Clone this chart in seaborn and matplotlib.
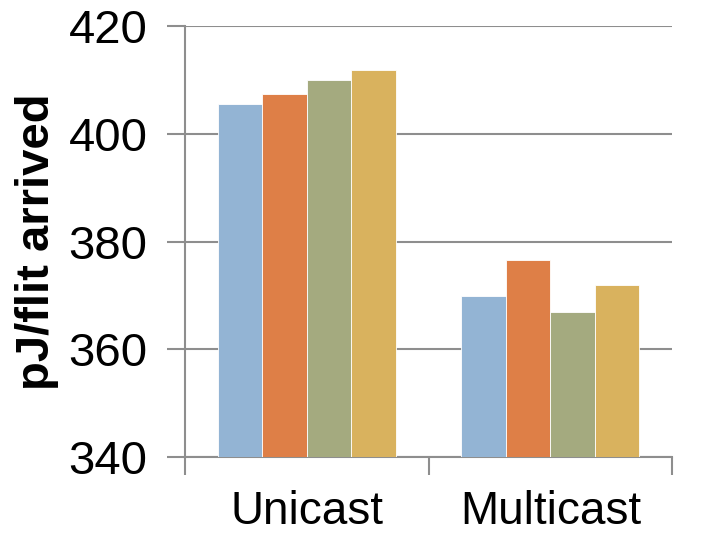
import matplotlib
matplotlib.use("Agg")
import matplotlib.pyplot as plt
import seaborn as sns
import pandas as pd

# Energy per arrived flit for four configurations under two traffic types
categories = ["Unicast", "Multicast"]
series = ["Config 1", "Config 2", "Config 3", "Config 4"]
values = {
    "Config 1": [405.6, 369.9],
    "Config 2": [407.3, 376.5],
    "Config 3": [409.9, 367.0],
    "Config 4": [411.9, 371.9],
}
yticks = [340, 360, 380, 400, 420]
colors = ["#93B4D4", "#DE7F47", "#A4AA7F", "#D9B25E"]

rows = []
for s in series:
    for c, v in zip(categories, values[s]):
        rows.append({"traffic": c, "config": s, "energy": v})
df = pd.DataFrame(rows)

sns.set_theme(style="white")
plt.rcParams["font.family"] = ["Liberation Sans", "DejaVu Sans"]
plt.rcParams["text.color"] = "black"
plt.rcParams["axes.labelcolor"] = "black"
plt.rcParams["xtick.color"] = "black"
plt.rcParams["ytick.color"] = "black"

fig = plt.figure(figsize=(7.06, 5.33), dpi=100)
ax = fig.add_axes([0.262, 0.1426, 0.690, 0.8086])

sns.barplot(data=df, x="traffic", y="energy", hue="config", order=categories,
            hue_order=series, palette=colors, saturation=1, width=0.73, gap=0,
            edgecolor="white", linewidth=0.6, legend=False, ax=ax, zorder=3)

grid_c = "#8E8E8E"
ax.set_ylim(340, 420)
ax.set_xlim(-0.5, 1.5)
ax.set_yticks(yticks)
ax.yaxis.grid(True, color=grid_c, linewidth=1.5, zorder=0)
ax.set_axisbelow(True)

for side in ["top", "right"]:
    ax.spines[side].set_visible(False)
for side in ["left", "bottom"]:
    ax.spines[side].set_color(grid_c)
    ax.spines[side].set_linewidth(1.5)

# category boundaries carry the x tick marks; labels sit at the centres
ax.set_xticks([-0.5, 0.5, 1.5], minor=True)
ax.tick_params(axis="x", which="major", length=0, pad=24, labelsize=33,
               labelcolor="black")
ax.tick_params(axis="x", which="minor", bottom=True, length=13, width=1.5,
               color=grid_c, direction="out")
ax.tick_params(axis="y", which="major", length=13, width=1.5, color=grid_c,
               direction="out", pad=14, labelsize=34, left=True,
               labelcolor="black")

ax.set_xlabel("")
ax.set_ylabel("pJ/flit arrived", fontsize=34, fontweight="bold", labelpad=7,
              color="black")

fig.savefig("out.png", dpi=100)
